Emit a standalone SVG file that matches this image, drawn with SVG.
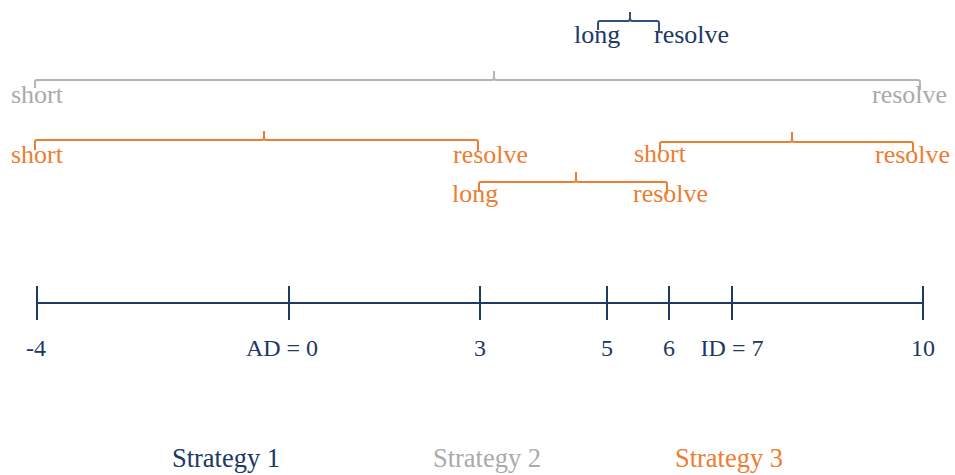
<svg xmlns="http://www.w3.org/2000/svg" width="955" height="475" viewBox="0 0 955 475">
<style>
text{font-family:"Liberation Serif","Times New Roman",serif;font-size:26px}
.nv{fill:#203864}.gy{fill:#aaaaaa}.or{fill:#ed7d31}
.br{fill:none;stroke-width:2;stroke-linejoin:round}
.bn{stroke:#2e4f80}.bg{stroke:#b4b4b4}.bo{stroke:#ed7d31}
.ax{stroke:#203864;stroke-width:2;fill:none}
.lab{font-size:24px;text-anchor:middle}
.leg{font-size:26.5px;text-anchor:middle}
</style>
<rect width="955" height="475" fill="#ffffff"/>
<g id="connectors">
<path class="br bn" d="M598,30 V23 Q598,21 600,21 H628 Q630,21 630,18 V12 M630,18 Q630,21 632,21 H657 Q659,21 659,23 V32"/>
<path class="br bg" d="M35,88 V82 Q35,80 37,80 H492 Q494,80 494,77 V71 M494,77 Q494,80 496,80 H918 Q920,80 920,82 V90"/>
<path class="br bo" d="M35,150 V142 Q35,140 37,140 H262 Q264,140 264,137 V131 M264,137 Q264,140 266,140 H476 Q478,140 478,142 V152"/>
<path class="br bo" d="M660,152 V144 Q660,142 662,142 H790 Q792,142 792,139 V132 M792,139 Q792,142 794,142 H911 Q913,142 913,144 V152"/>
<path class="br bo" d="M479,192 V184 Q479,182 481,182 H574 Q576,182 576,179 V172 M576,179 Q576,182 578,182 H665 Q667,182 667,184 V194"/>
</g>
<g id="axis">
<path class="ax" d="M37,303 H923 M37,286 V320 M289,286 V320 M480,286 V320 M607,286 V320 M669,286 V320 M732,286 V320 M923,286 V320"/>
<text class="nv lab" x="36" y="356">-4</text>
<text class="nv lab" x="282" y="356">AD = 0</text>
<text class="nv lab" x="480" y="356">3</text>
<text class="nv lab" x="607" y="356">5</text>
<text class="nv lab" x="669" y="356">6</text>
<text class="nv lab" x="732" y="356">ID = 7</text>
<text class="nv lab" x="923" y="356">10</text>
</g>
<g id="strategy1-top">
<text class="nv" x="574" y="43">long</text>
<text class="nv" x="654" y="43">resolve</text>
</g>
<g id="strategy2">
<text class="gy" x="11" y="103">short</text>
<text class="gy" x="872" y="103">resolve</text>
</g>
<g id="strategy3-a">
<text class="or" x="11" y="163">short</text>
<text class="or" x="453" y="163">resolve</text>
</g>
<g id="strategy3-b">
<text class="or" x="634" y="162">short</text>
<text class="or" x="875" y="163">resolve</text>
</g>
<g id="strategy3-c">
<text class="or" x="452" y="202">long</text>
<text class="or" x="633" y="202">resolve</text>
</g>
<g id="legend">
<text class="nv leg" x="226" y="467">Strategy 1</text>
<text class="gy leg" x="487" y="467">Strategy 2</text>
<text class="or leg" x="729" y="467">Strategy 3</text>
</g>
</svg>
